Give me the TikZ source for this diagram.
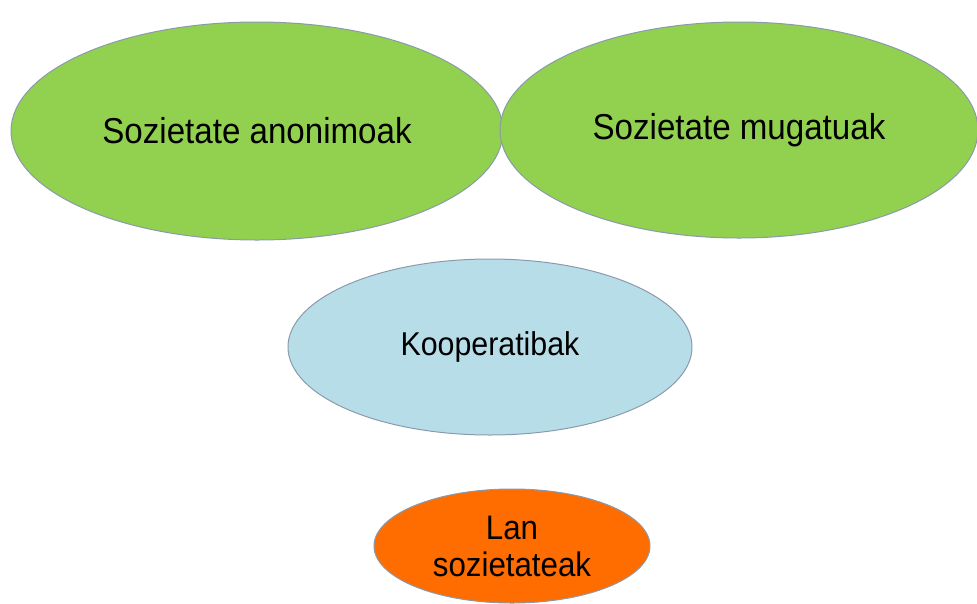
\documentclass[tikz,border=0pt]{standalone}
\usepackage{fontspec}
\setmainfont[FakeStretch=0.92]{Liberation Sans}
\usetikzlibrary{positioning,shapes}
\definecolor{leafgreen}{HTML}{92D050}
\definecolor{paleblue}{HTML}{B7DEE8}
\definecolor{deeporange}{HTML}{FF6D00}
\definecolor{rimgrey}{HTML}{8A9AAB}
\tikzstyle{blob} = [draw=rimgrey, line width=1pt, ellipse, inner sep=0pt, align=center]

\begin{document}
\begin{tikzpicture}[x=1pt,y=-1pt]
		\useasboundingbox (0,0) rectangle (977,603);
		\node (anon) [blob, fill=leafgreen, minimum width=492pt, minimum height=218pt, font=\fontsize{36}{40}\selectfont] at (257,131) {Sozietate anonimoak};
		\node (muga) [blob, fill=leafgreen, minimum width=478pt, minimum height=216pt, font=\fontsize{36}{40}\selectfont] at (739,130) {Sozietate mugatuak};
		\node (koop) [blob, fill=paleblue, minimum width=404pt, minimum height=176pt, font=\fontsize{33}{38}\selectfont] at (490,347) {Kooperatibak};
		\node (lan) [blob, fill=deeporange, minimum width=276pt, minimum height=114pt, font=\fontsize{34}{37}\selectfont] at (512,546) {Lan\\sozietateak};
	\end{tikzpicture}
\end{document}
